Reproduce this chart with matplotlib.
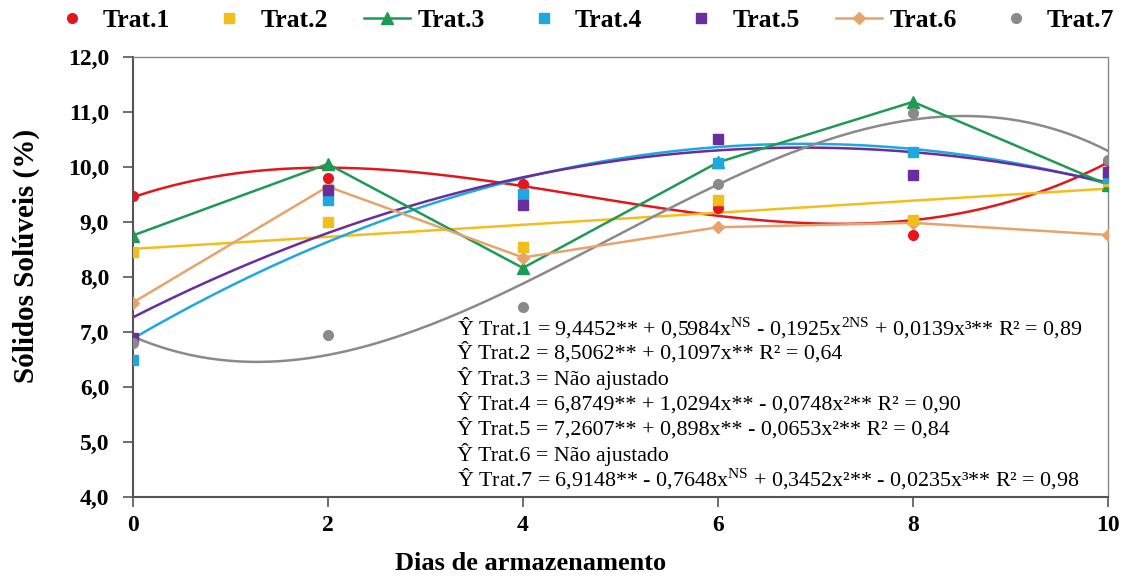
import numpy as np
import matplotlib.pyplot as plt

plt.rcParams['font.family'] = ['Liberation Serif', 'DejaVu Serif']
plt.rcParams['mathtext.fontset'] = 'custom'
plt.rcParams['mathtext.rm'] = 'Liberation Serif'

days = [0, 2, 4, 6, 8, 10]

trat1 = [9.47, 9.80, 9.69, 9.25, 8.76, 10.10]
trat2 = [8.45, 9.00, 8.55, 9.40, 9.04, 9.75]
trat3 = [8.75, 10.05, 8.16, 10.08, 11.18, 9.67]
trat4 = [6.48, 9.40, 9.50, 10.07, 10.27, 9.80]
trat5 = [6.88, 9.58, 9.30, 10.50, 9.85, 9.90]
trat6 = [7.53, 9.64, 8.35, 8.90, 8.98, 8.76]
trat7 = [6.80, 6.95, 7.45, 9.69, 10.98, 10.13]

# regression coefficients (constant first)
coef1 = [9.4452, 0.5984, -0.1925, 0.0139]
coef2 = [8.5062, 0.1097]
coef4 = [6.8749, 1.0294, -0.0748]
coef5 = [7.2607, 0.898, -0.0653]
coef7 = [6.9148, -0.7648, 0.3452, -0.0235]

c_red = '#E3161C'
c_yel = '#F2BE1D'
c_grn = '#1D9A55'
c_cya = '#1FA8E0'
c_pur = '#6A2D9C'
c_ora = '#E6A46C'
c_gry = '#8A8A8A'

eq_lines = [
    r"Ŷ Trat.1 = 9,4452** + 0,5984x$^{\mathrm{NS}}$ - 0,1925x$^{\mathrm{2NS}}$ + 0,0139x³** R² = 0,89",
    r"Ŷ Trat.2 = 8,5062** + 0,1097x** R² = 0,64",
    r"Ŷ Trat.3 = Não ajustado",
    r"Ŷ Trat.4 = 6,8749** + 1,0294x** - 0,0748x²** R² = 0,90",
    r"Ŷ Trat.5 = 7,2607** + 0,898x** - 0,0653x²** R² = 0,84",
    r"Ŷ Trat.6 = Não ajustado",
    r"Ŷ Trat.7 = 6,9148** - 0,7648x$^{\mathrm{NS}}$ + 0,3452x²** - 0,0235x³** R² = 0,98",
]

fig = plt.figure(figsize=(11.25, 5.79), dpi=100)
ax = fig.add_axes([0.118, 0.142, 0.867, 0.76])

xs = np.linspace(0, 10, 200)


def poly(c, x):
    return sum(ci * x ** i for i, ci in enumerate(c))


# fitted curves
ax.plot(xs, poly(coef1, xs), color=c_red, lw=1.8)
ax.plot(xs, poly(coef2, xs), color=c_yel, lw=1.8)
ax.plot(xs, poly(coef4, xs), color=c_cya, lw=1.8)
ax.plot(xs, poly(coef5, xs), color=c_pur, lw=1.8)
ax.plot(xs, poly(coef7, xs), color=c_gry, lw=1.8)

# observed points
h1, = ax.plot(days, trat1, 'o', color=c_red, ms=7, label='Trat.1', zorder=5)
h2, = ax.plot(days, trat2, 's', color=c_yel, ms=7, label='Trat.2', zorder=5)
h3, = ax.plot(days, trat3, '-^', color=c_grn, ms=8, lw=1.8, label='Trat.3', zorder=4)
h4, = ax.plot(days, trat4, 's', color=c_cya, ms=7, label='Trat.4', zorder=5)
h5, = ax.plot(days, trat5, 's', color=c_pur, ms=7, label='Trat.5', zorder=5)
h6, = ax.plot(days, trat6, '-D', color=c_ora, ms=6.5, lw=1.8, label='Trat.6', zorder=4)
h7, = ax.plot(days, trat7, 'o', color=c_gry, ms=7, label='Trat.7', zorder=5)

ax.set_xlim(0, 10)
ax.set_ylim(4, 12)
ax.set_xticks([0, 2, 4, 6, 8, 10])
ax.set_yticks(np.arange(4, 12.1, 1))
ax.set_yticklabels([f"{v:.1f}".replace('.', ',') for v in np.arange(4, 12.1, 1)])
for lab in ax.get_xticklabels() + ax.get_yticklabels():
    lab.set_fontweight('bold')
ax.tick_params(axis='both', labelsize=17, length=7, width=1.2, color='#555555', direction='out')
ax.tick_params(axis='x', pad=6)
ax.tick_params(axis='y', pad=10)

for s in ['left', 'bottom']:
    ax.spines[s].set_color('#555555')
    ax.spines[s].set_linewidth(1.5)
for s in ['top', 'right']:
    ax.spines[s].set_color('#888888')
    ax.spines[s].set_linestyle((0, (1, 1)))
    ax.spines[s].set_linewidth(1.0)

ax.set_xlabel('Dias de armazenamento', fontsize=19, fontweight='bold')
ax.xaxis.set_label_coords(0.408, -0.125)
ax.set_ylabel('Sólidos Solúveis (%)', fontsize=21, fontweight='bold')
ax.yaxis.set_label_coords(-0.095, 0.548)

fig.legend(handles=[h1, h2, h3, h4, h5, h6, h7], loc='upper center', ncol=7,
           bbox_to_anchor=(0.517, 1.025), frameon=False,
           prop={'size': 18.5, 'weight': 'bold'}, handlelength=1.8, columnspacing=1.4,
           handletextpad=0.3)

y0 = 7.07
for i, line in enumerate(eq_lines):
    ax.text(3.32, y0 - i * 0.46, line, fontsize=15.8, va='center', ha='left')

plt.savefig('out.png', dpi=100)
